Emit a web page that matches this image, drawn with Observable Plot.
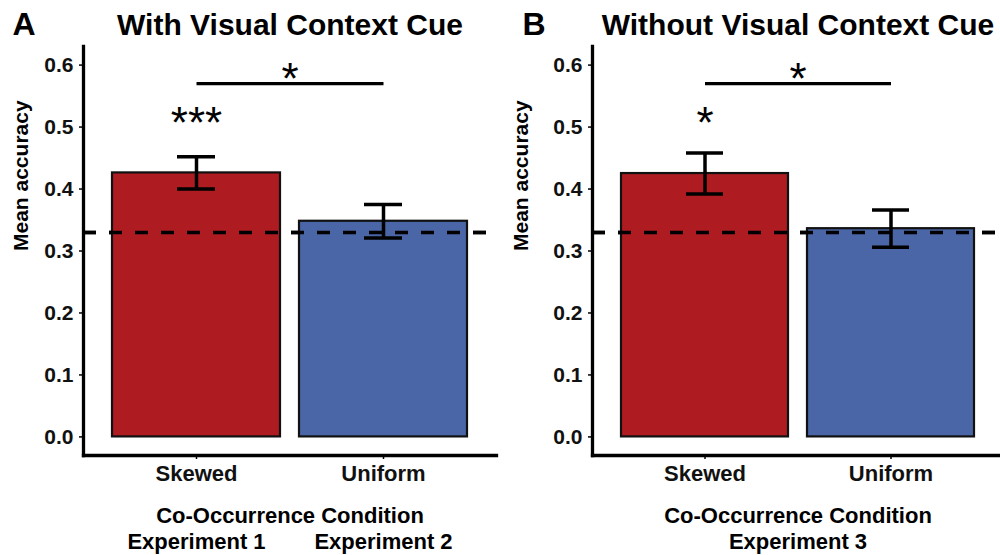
<!DOCTYPE html>
<html>
<head>
<meta charset="utf-8">
<script src="https://cdn.jsdelivr.net/npm/d3@7"></script>
<script src="https://cdn.jsdelivr.net/npm/@observablehq/plot@0.6"></script>
<style>
  html, body { margin: 0; padding: 0; background: #fff; overflow: hidden; }
  #wrap { display: flex; width: 1000px; height: 555px; overflow: hidden; }
  #wrap svg { flex: none; max-width: none; }
</style>
</head>
<body>
<div id="wrap"></div>
<script>
// ---- data ----
const conditions = ["Skewed", "Uniform"];
const barColors = ["#AE1C22", "#4A66A6"];
const yTicks = [0.0, 0.1, 0.2, 0.3, 0.4, 0.5, 0.6];
const chanceLevel = 0.33;

const panelLetters = ["A", "B"];
const panelTitles = ["With Visual Context Cue", "Without Visual Context Cue"];

const meansA = [0.426, 0.348];
const seA = [0.026, 0.027];
const starsA = ["***", ""];

const meansB = [0.425, 0.336];
const seB = [0.033, 0.030];
const starsB = ["*", ""];

const bracketLevel = 0.57;
const bracketStarLevel = 0.595;
const barStarLevel = 0.525;
const bracketStars = ["*", "*"];

const xTitle = "Co-Occurrence Condition";
const experimentsA = ["Experiment 1", "Experiment 2"];
const experimentsB = ["Experiment 3"];
const yTitle = "Mean accuracy";

const FONT = "'Liberation Sans', Arial, Helvetica, sans-serif";

function panel(i, means, ses, stars, experiments, width, marginLeft, marginRight) {
  const rows = conditions.map((c, j) => ({
    cond: c, mean: means[j], lo: means[j] - ses[j], hi: means[j] + ses[j], star: stars[j]
  }));
  const starRows = rows.filter(d => d.star);
  const expRows = experiments.length === conditions.length
    ? experiments.map((e, j) => ({label: e, cond: conditions[j]}))
    : experiments.map(e => ({label: e}));

  const marks = [
    Plot.ruleY([chanceLevel], {stroke: "black", strokeWidth: 3.5, strokeDasharray: "13,13"}),
    Plot.barY(rows, {x: "cond", y: "mean", fill: "cond", stroke: "#111", strokeWidth: 2.2}),
    Plot.ruleY([chanceLevel], {stroke: "black", strokeWidth: 3.5, strokeDasharray: "13,13"}),
    Plot.ruleX(rows, {x: "cond", y1: "lo", y2: "hi", stroke: "black", strokeWidth: 3.5}),
    Plot.tickY(rows, {x: "cond", y: "lo", stroke: "black", strokeWidth: 3.5, insetLeft: 65, insetRight: 65}),
    Plot.tickY(rows, {x: "cond", y: "hi", stroke: "black", strokeWidth: 3.5, insetLeft: 65, insetRight: 65}),
    Plot.link([{x1: conditions[0], x2: conditions[1], y: bracketLevel}],
      {x1: "x1", x2: "x2", y1: "y", y2: "y", stroke: "black", strokeWidth: 3.3}),
    Plot.text([{y: bracketStarLevel, t: bracketStars[i]}],
      {y: "y", text: "t", frameAnchor: "middle", fontSize: 44, dy: 12, fill: "black"}),
    Plot.text(starRows, {x: "cond", y: () => barStarLevel, text: "star", fontSize: 44, dy: 12, fill: "black"}),
    Plot.axisY({ticks: yTicks, tickFormat: d3.format(".1f"), tickSize: 4, tickPadding: 6,
      fontSize: 21, fontWeight: "bold", label: null, strokeWidth: 1.5, fill: "#111"}),
    Plot.axisX({tickSize: 4, tickPadding: 6, fontSize: 22, fontWeight: "bold", label: null,
      strokeWidth: 1.5, fill: "#111"}),
    Plot.frame({anchor: "left", stroke: "black", strokeWidth: 3.3, strokeLinecap: "square"}),
    Plot.frame({anchor: "bottom", stroke: "black", strokeWidth: 3.3, strokeLinecap: "square"}),
    // panel title & letter
    Plot.text([panelTitles[i]], {text: d => d, frameAnchor: "top", lineAnchor: "bottom", dy: -12,
      fontSize: 30, fontWeight: "bold", fill: "black"}),
    Plot.text([panelLetters[i]], {text: d => d, frameAnchor: "top-left", lineAnchor: "bottom",
      textAnchor: "start", dx: i === 0 ? -71 : -70, dy: -12, fontSize: 32, fontWeight: "bold", fill: "black"}),
    // axis titles
    Plot.text([yTitle], {text: d => d, frameAnchor: "left", rotate: -90, lineAnchor: "bottom",
      dx: i === 0 ? -56 : -65, fontSize: 21, fontWeight: "bold", fill: "black"}),
    Plot.text([xTitle], {text: d => d, frameAnchor: "bottom", lineAnchor: "bottom", dy: 67,
      fontSize: 22, fontWeight: "bold", fill: "black"}),
    expRows.length === conditions.length
      ? Plot.text(expRows, {x: "cond", text: "label", frameAnchor: "bottom", lineAnchor: "bottom", dy: 93,
          fontSize: 22, fontWeight: "bold", fill: "black"})
      : Plot.text(expRows, {text: "label", frameAnchor: "bottom", lineAnchor: "bottom", dy: 93,
          fontSize: 22, fontWeight: "bold", fill: "black"})
  ];

  return Plot.plot({
    width, height: 555,
    marginLeft, marginRight, marginTop: 46, marginBottom: 100,
    style: {fontFamily: FONT, background: "white", overflow: "visible"},
    x: {domain: conditions, paddingInner: 0.1, paddingOuter: 0.15},
    y: {domain: [-0.03, 0.63]},
    color: {domain: conditions, range: barColors},
    marks
  });
}

const wrap = document.getElementById("wrap");
wrap.appendChild(panel(0, meansA, seA, starsA, experimentsA, 500, 83, 4));
wrap.appendChild(panel(1, meansB, seB, starsB, experimentsB, 503, 92, 0));
</script>
</body>
</html>
